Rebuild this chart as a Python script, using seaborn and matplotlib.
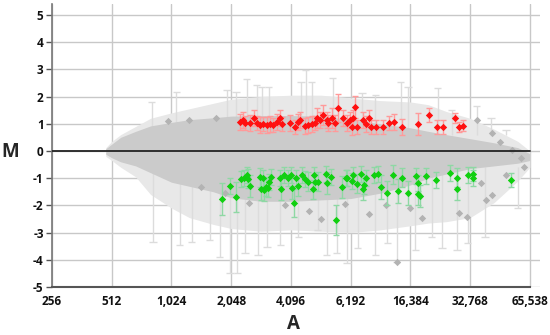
import numpy as np
import pandas as pd
import matplotlib
matplotlib.use("Agg")
import matplotlib.pyplot as plt
import seaborn as sns

# ---------------- data (x = log2 A, y = M) ----------------
x_ticks = [8, 9, 10, 11, 12, 13, 14, 15, 16]
x_tick_labels = ["256", "512", "1,024", "2,048", "4,096", "6,192", "16,384", "32,768", "65,538"]
y_ticks = [-5, -4, -3, -2, -1, 0, 1, 2, 3, 4, 5]

# envelope of the dense grey point cloud
cloud_x = [8.90, 9.0, 9.15, 9.4, 9.65, 10.0, 10.3, 10.7, 11.0, 11.5, 12.0, 12.5, 13.0, 13.5, 14.0, 14.3, 14.6, 15.0, 15.4, 15.8, 16.0]
cloud_hi = [0.08, 0.25, 0.5, 0.72, 0.92, 1.05, 1.15, 1.22, 1.28, 1.3, 1.3, 1.28, 1.15, 1.0, 0.85, 0.72, 0.6, 0.45, 0.3, 0.12, -0.1]
cloud_lo = [-0.12, -0.25, -0.4, -0.55, -0.8, -1.15, -1.3, -1.5, -1.72, -1.85, -1.85, -1.8, -1.75, -1.55, -1.25, -1.0, -0.85, -0.65, -0.55, -0.45, -0.35]
# envelope of the light grey error bars
bars_hi = [0.12, 0.35, 0.6, 0.9, 1.2, 1.4, 1.55, 1.75, 1.9, 2.0, 2.05, 2.05, 1.95, 1.85, 1.8, 1.7, 1.45, 1.2, 0.8, 0.35, 0.0]
bars_lo = [-0.2, -0.35, -0.6, -0.95, -1.6, -2.1, -2.45, -2.7, -2.85, -2.95, -2.9, -2.95, -3.0, -2.9, -2.75, -2.65, -2.6, -2.45, -1.9, -1.1, -0.6]

# individual long grey error bars sticking out of the cloud
gw_up_x = [9.67, 10.08, 10.93, 11.08, 11.26, 11.43, 11.51, 11.63, 12.17, 12.25, 12.35, 12.70, 13.19, 13.41, 13.84, 13.96, 14.46, 14.69, 15.11, 15.35, 15.60]
gw_up_hi = [1.80, 2.17, 2.24, 2.17, 2.65, 2.43, 2.35, 2.35, 2.54, 2.98, 2.54, 2.68, 2.13, 2.06, 2.54, 2.35, 2.32, 1.51, 1.65, 1.21, 0.77]
gw_dn_x = [9.69, 10.14, 10.34, 10.64, 10.81, 10.98, 11.10, 11.23, 11.45, 11.60, 11.82, 12.12, 12.45, 12.60, 12.77, 12.94, 13.12, 13.41, 13.61, 13.77, 14.08, 14.36, 14.53, 14.78, 14.96, 15.25, 15.80]
gw_dn_lo = [-3.35, -3.46, -3.35, -3.27, -3.90, -4.49, -4.49, -3.75, -3.82, -3.53, -3.46, -3.16, -2.90, -3.82, -3.75, -4.12, -3.57, -3.82, -3.38, -4.08, -3.64, -3.16, -3.57, -3.64, -3.38, -3.16, -2.10]

# scattered darker grey points
gp_x = [9.95, 10.3, 10.75, 10.5, 10.9, 11.3, 12.9, 13.6, 14.2, 15.11, 15.36, 15.5, 15.7, 15.85, 15.18, 15.36, 15.27, 14.82, 14.94, 13.77, 14.0, 12.3, 12.5, 11.9, 13.3, 15.6, 15.9]
gp_y = [1.10, 1.14, 1.21, -1.32, -1.55, -1.9, -1.95, -2.0, -2.46, 1.14, 0.66, 0.33, 0.05, -0.25, -1.18, -1.62, -1.80, -2.28, -2.43, -4.08, -2.1, -2.2, -2.5, -2.0, -2.3, -0.9, -0.6]

# up-regulated (red)
red_x = [11.15, 11.20, 11.23, 11.31, 11.38, 11.43, 11.48, 11.53, 11.60, 11.65, 11.70, 11.77, 11.82, 11.85, 11.98,
         12.07, 12.12, 12.15, 12.23, 12.28, 12.35, 12.40, 12.44, 12.49, 12.54, 12.60, 12.62, 12.69, 12.74, 12.79,
         12.87, 12.94, 12.99, 13.02, 13.04, 13.07, 13.10, 13.21, 13.26, 13.31, 13.34, 13.42, 13.54, 13.64, 13.72,
         13.86, 14.13, 14.31, 14.44, 14.54, 14.74, 14.81, 14.88]
red_m = [1.07, 1.14, 1.03, 1.03, 1.21, 1.03, 0.96, 0.99, 0.96, 0.99, 0.96, 1.07, 1.21, 0.99, 1.03,
         0.88, 1.07, 1.14, 0.92, 0.96, 0.99, 1.03, 1.21, 1.14, 1.32, 1.14, 1.03, 1.21, 1.03, 1.58,
         1.21, 1.03, 1.14, 0.88, 1.21, 1.62, 0.88, 1.14, 0.99, 1.21, 0.88, 0.88, 0.88, 1.03, 1.07,
         0.88, 0.99, 1.32, 0.88, 0.88, 1.21, 0.88, 0.92]
red_err = [0.3, 0.3, 0.25, 0.3, 0.3, 0.25, 0.3, 0.25, 0.3, 0.3, 0.25, 0.3, 0.3, 0.25, 0.3,
           0.25, 0.3, 0.3, 0.3, 0.3, 0.3, 0.25, 0.35, 0.3, 0.35, 0.3, 0.3, 0.35, 0.3, 0.5,
           0.3, 0.3, 0.3, 0.3, 0.3, 0.4, 0.25, 0.3, 0.3, 0.3, 0.25, 0.25, 0.25, 0.25, 0.3,
           0.3, 0.4, 0.25, 0.25, 0.25, 0.2, 0.2, 0.2]

# down-regulated (green)
green_x = [10.85, 10.98, 11.08, 11.16, 11.21, 11.26, 11.28, 11.31, 11.48, 11.50, 11.53, 11.55, 11.58, 11.62, 11.63,
           11.67, 11.82, 11.83, 11.88, 11.95, 12.00, 12.02, 12.05, 12.08, 12.12, 12.18, 12.23, 12.28, 12.37, 12.38,
           12.40, 12.45, 12.59, 12.60, 12.67, 12.75, 12.85, 12.92, 12.94, 13.02, 13.04, 13.10, 13.17, 13.21, 13.22,
           13.26, 13.39, 13.46, 13.51, 13.61, 13.71, 13.79, 13.86, 13.96, 14.09, 14.13, 14.13, 14.16, 14.26, 14.43,
           14.66, 14.78, 14.78, 14.96, 15.05, 15.05, 15.68]
green_m = [-1.76, -1.29, -1.69, -1.03, -0.99, -0.88, -1.03, -1.29, -0.96, -1.40, -0.99, -1.43, -1.32, -1.36, -1.14,
           -0.96, -0.99, -1.40, -0.88, -0.99, -0.88, -1.36, -1.91, -0.99, -1.29, -0.88, -1.03, -1.14, -1.40, -0.88,
           -1.14, -1.14, -0.85, -1.18, -0.96, -2.54, -1.32, -0.99, -0.99, -1.10, -0.88, -1.21, -0.85, -1.40, -1.25,
           -0.99, -0.88, -0.85, -1.32, -1.54, -0.88, -1.47, -0.99, -1.54, -0.92, -1.18, -1.58, -1.66, -0.92, -1.07,
           -0.81, -0.99, -1.40, -0.88, -0.85, -0.99, -1.07]
green_err = [0.6, 0.3, 0.55, 0.3, 0.3, 0.3, 0.35, 0.4, 0.35, 0.4, 0.3, 0.4, 0.35, 0.35, 0.3,
             0.3, 0.3, 0.4, 0.3, 0.3, 0.3, 0.4, 0.5, 0.3, 0.35, 0.3, 0.3, 0.35, 0.35, 0.3,
             0.3, 0.35, 0.3, 0.4, 0.3, 0.55, 0.4, 0.3, 0.3, 0.3, 0.3, 0.35, 0.3, 0.4, 0.35,
             0.3, 0.3, 0.3, 0.45, 0.45, 0.35, 0.45, 0.35, 0.45, 0.3, 0.3, 0.4, 0.4, 0.3, 0.3,
             0.3, 0.35, 0.4, 0.3, 0.25, 0.3, 0.25]

# ---------------- plotting ----------------
sns.set_style("white")
plt.rcParams["font.family"] = ["Open Sans", "DejaVu Sans"]

fig = plt.figure(figsize=(5.5, 3.35), dpi=100)
ax = fig.add_axes([52 / 550, 1 - 287 / 335, (540 - 52) / 550, (287 - 4) / 335])
ax.set_xlim(8, 16.17)
ax.set_ylim(-5, 5.4)

# grid
ax.set_axisbelow(True)
ax.set_xticks(x_ticks)
ax.set_yticks(y_ticks)
ax.grid(True, color="#c8c8c8", lw=1.0)

# light grey error-bar envelope
ax.fill_between(cloud_x, bars_lo, bars_hi, color="#e8e8e8", lw=0, zorder=1.5)

# individual grey whiskers
gw_up_lo = [0.6] * len(gw_up_x)
gw_dn_hi = [-0.6] * len(gw_dn_x)
cap = 0.06
ax.vlines(gw_up_x, gw_up_lo, gw_up_hi, color="#dcdcdc", lw=1.0, zorder=2)
ax.hlines(gw_up_hi, np.array(gw_up_x) - cap, np.array(gw_up_x) + cap, color="#dcdcdc", lw=1.0, zorder=2)
ax.vlines(gw_dn_x, gw_dn_lo, gw_dn_hi, color="#dcdcdc", lw=1.0, zorder=2)
ax.hlines(gw_dn_lo, np.array(gw_dn_x) - cap, np.array(gw_dn_x) + cap, color="#dcdcdc", lw=1.0, zorder=2)

# dense grey cloud
ax.fill_between(cloud_x, cloud_lo, cloud_hi, color="#cbcbcb", lw=0, zorder=3)

# scattered grey points
gp = pd.DataFrame({"A": gp_x, "M": gp_y})
sns.scatterplot(data=gp, x="A", y="M", ax=ax, color="#b3b3b3", s=14, marker="D", linewidth=0, zorder=4)

# zero line
ax.plot([8, 16], [0, 0], color="#222222", lw=1.3, zorder=5)

# red
ax.errorbar(red_x, red_m, yerr=red_err, fmt="none", ecolor="#ff9a9a", elinewidth=1.0, capsize=2.5, capthick=1.0, zorder=6)
rd = pd.DataFrame({"A": red_x, "M": red_m})
sns.scatterplot(data=rd, x="A", y="M", ax=ax, color="#ff1010", s=14, marker="D", linewidth=0, zorder=7)

# green
ax.errorbar(green_x, green_m, yerr=green_err, fmt="none", ecolor="#8ed8a4", elinewidth=1.0, capsize=2.5, capthick=1.0, zorder=6)
gd = pd.DataFrame({"A": green_x, "M": green_m})
sns.scatterplot(data=gd, x="A", y="M", ax=ax, color="#10d010", s=14, marker="D", linewidth=0, zorder=7)

# axes styling
ax.set_xticklabels(x_tick_labels, fontsize=8.5, fontweight="bold", color="#111111")
ax.set_yticklabels([str(v) for v in y_ticks], fontsize=8.5, fontweight="bold", color="#111111")
ax.tick_params(axis="x", length=0, pad=6)
ax.tick_params(axis="y", length=4, width=1, color="#555555", pad=2, left=True)
ax.set_xlabel("")
ax.set_ylabel("")
for s in ["top", "right"]:
    ax.spines[s].set_visible(False)
ax.spines["left"].set_color("#777777")
ax.spines["left"].set_linewidth(1.2)
ax.spines["bottom"].set_color("#555555")
ax.spines["bottom"].set_linewidth(1.5)
ax.spines["bottom"].set_bounds(8, 16)

fig.text(10 / 550, 1 - 152 / 335, "M", fontsize=13.5, fontweight="bold", ha="center", va="center")
fig.text(293 / 550, 1 - 324 / 335, "A", fontsize=13.5, fontweight="bold", ha="center", va="center")

fig.savefig("out.png", dpi=100)
